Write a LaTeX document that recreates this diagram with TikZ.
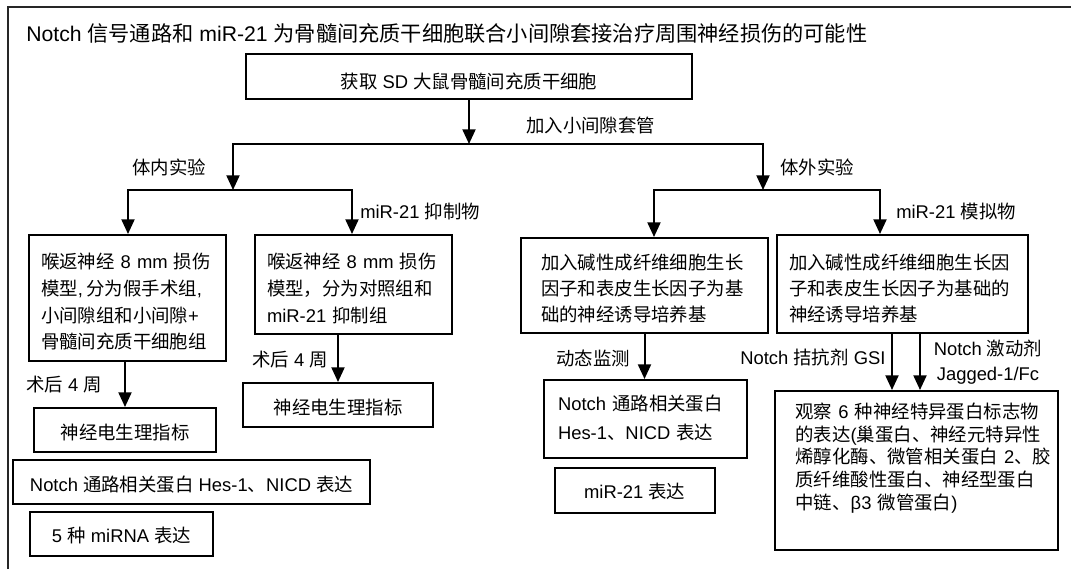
\documentclass[tikz,border=0pt]{standalone}
\usepackage{fontspec}
\setmainfont{Liberation Sans}
\newfontfamily\cj{Noto Sans CJK SC}
\usetikzlibrary{arrows.meta}
\newcommand\boxlines[2]{\raisebox{#1}[\height][\depth]{\begin{tabular}{@{}l@{}}#2\end{tabular}}}
\newcommand\rs[2]{\raisebox{#1}[\height][\depth]{#2}}
\begin{document}
\begin{tikzpicture}[x=0.75pt,y=-0.75pt,
  bx/.style={draw, line width=1.5pt, inner ysep=0pt, font=\fontsize{13.8}{20}\selectfont},
  lt/.style={align=left},
  ct/.style={align=center},
  arr/.style={line width=1.5pt, -{Triangle[width=9.75pt,length=11pt]}},
  lab/.style={anchor=west, inner sep=0pt, font=\fontsize{13.8}{18}\selectfont},
  frame/.style={line width=0.8pt, draw=black!85},
]
\useasboundingbox (0,0) rectangle (1071,569);
\draw[frame] (8,569) -- (8,7) -- (1071,7);

\node[anchor=west, inner sep=0pt, font=\fontsize{15.9}{20}\selectfont] (title) at (26,33)
  {Notch {\cj 信号通路和} miR-21 {\cj 为骨髓间充质干细胞联合小间隙套接治疗周围神经损伤的可能性}};

\node[bx, ct, minimum width=0.75*446pt, minimum height=0.75*45pt] (top) at (469,76.5)
  {\rs{-3.5pt}{{\cj 获取} SD {\cj 大鼠骨髓间充质干细胞}}};

\node[bx, lt, text width=0.75*173pt, inner xsep=0.75*12pt, minimum height=0.75*126pt] (A) at (127.5,298)
  {\boxlines{-4.2pt}{{\cj 喉返神经} 8 mm {\cj 损伤}\\{\cj 模型},\hspace{0.2em}{\cj 分为假手术组},\\{\cj 小间隙组和小间隙}+\\{\cj 骨髓间充质干细胞组}}};

\node[bx, lt, text width=0.75*172.5pt, inner xsep=0.75*12.5pt, minimum height=0.75*99pt] (B) at (353.25,284.5)
  {\boxlines{-4.2pt}{{\cj 喉返神经} 8 mm {\cj 损伤}\\{\cj 模型，分为对照组和}\\miR-21 {\cj 抑制组}}};

\node[bx, ct, minimum width=0.75*182pt, minimum height=0.75*44pt] (A2) at (125,430) {\rs{-1.5pt}{\cj 神经电生理指标}};
\node[bx, ct, minimum width=0.75*190pt, minimum height=0.75*44pt] (B2) at (338,405) {\rs{-2.2pt}{\cj 神经电生理指标}};
\node[bx, ct, minimum width=0.75*357pt, minimum height=0.75*44pt] (N1) at (191.5,482)
  {\rs{-2.2pt}{Notch {\cj 通路相关蛋白} Hes-1{\cj 、}NICD {\cj 表达}}};
\node[bx, ct, minimum width=0.75*183pt, minimum height=0.75*44pt] (M5) at (121.5,534)
  {\rs{-0.8pt}{5 {\cj 种} miRNA {\cj 表达}}};

\node[bx, lt, text width=0.75*207pt, inner xsep=0.75*20pt, minimum height=0.75*95pt,
  font=\fontsize{13.8}{19.5}\selectfont] (C) at (644.5,285.5)
  {\boxlines{-3.9pt}{{\cj 加入碱性成纤维细胞生长}\\{\cj 因子和表皮生长因子为基}\\{\cj 础的神经诱导培养基}}};

\node[bx, lt, text width=0.75*227pt, inner xsep=0.75*12pt, minimum height=0.75*98pt,
  font=\fontsize{13.8}{19.5}\selectfont] (D) at (902.5,284)
  {\boxlines{-5pt}{{\cj 加入碱性成纤维细胞生长因}\\{\cj 子和表皮生长因子为基础的}\\{\cj 神经诱导培养基}}};

\node[bx, lt, text width=0.75*175pt, inner xsep=0.75*14pt, minimum height=0.75*78pt,
  font=\fontsize{13.8}{21.75}\selectfont] (F) at (645.5,419)
  {\boxlines{0pt}{Notch {\cj 通路相关蛋白}\\Hes-1{\cj 、}NICD {\cj 表达}}};

\node[bx, ct, minimum width=0.75*159.5pt, minimum height=0.75*45pt] (G) at (634.75,490.5)
  {\rs{-0.8pt}{miR-21 {\cj 表达}}};

\node[bx, lt, text width=0.75*242pt, inner xsep=0.75*20.5pt, minimum height=0.75*159pt,
  font=\fontsize{13.8}{17}\selectfont] (E) at (916.5,470.5)
  {\boxlines{8.3pt}{{\cj 观察} 6 {\cj 种神经特异蛋白标志物}\\{\cj 的表达}({\cj 巢蛋白、神经元特异性}\\{\cj 烯醇化酶、微管相关蛋白} 2{\cj 、胶}\\{\cj 质纤维酸性蛋白、神经型蛋白}\\{\cj 中链、}β3 {\cj 微管蛋白})}};

% labels
\node[lab] (l1) at (526,125) {{\cj 加入小间隙套管}};
\node[lab] (l2) at (132,167) {{\cj 体内实验}};
\node[lab] (l3) at (780,167) {{\cj 体外实验}};
\node[lab] (l4) at (360,212) {miR-21 {\cj 抑制物}};
\node[lab] (l5) at (896,212) {miR-21 {\cj 模拟物}};
\node[lab] (l6) at (26,385) {{\cj 术后} 4 {\cj 周}};
\node[lab] (l7) at (252,360) {{\cj 术后} 4 {\cj 周}};
\node[lab] (l8) at (556,358) {{\cj 动态监测}};
\node[lab] (l9) at (740,357) {Notch {\cj 拮抗剂} GSI};
\node[lab, align=center, anchor=center, font=\fontsize{13.8}{18.75}\selectfont] (l10) at (988,362)
  {Notch {\cj 激动剂}\\Jagged-1/Fc};

% connectors
\coordinate (b1L) at (233,144); \coordinate (b1R) at (763,144);
\coordinate (s1L) at (128,190); \coordinate (s1R) at (352,190);
\coordinate (s2L) at (654,190); \coordinate (s2R) at (880,190);
\coordinate (e1) at (892,0); \coordinate (e2) at (920,0);

\draw[arr] (top.south) -- (top.south |- b1L);
\draw[arr] (b1R) -- (b1L) -- (b1L |- s1L);
\draw[arr] (b1L) -- (b1R) -- (b1R |- s2L);
\draw[arr] (s1R) -- (s1L) -- (s1L |- A.north);
\draw[arr] (s1L) -- (s1R) -- (s1R |- B.north);
\draw[arr] (s2R) -- (s2L) -- (s2L |- C.north);
\draw[arr] (s2L) -- (s2R) -- (s2R |- D.north);
\draw[arr] (A.south -| A2.north) -- (A2.north);
\draw[arr] (B.south -| B2.north) -- (B2.north);
\draw[arr] (C.south) -- (C.south |- F.north);
\draw[arr] (e1 |- D.south) -- (e1 |- E.north);
\draw[arr] (e2 |- D.south) -- (e2 |- E.north);
\end{tikzpicture}
\end{document}
